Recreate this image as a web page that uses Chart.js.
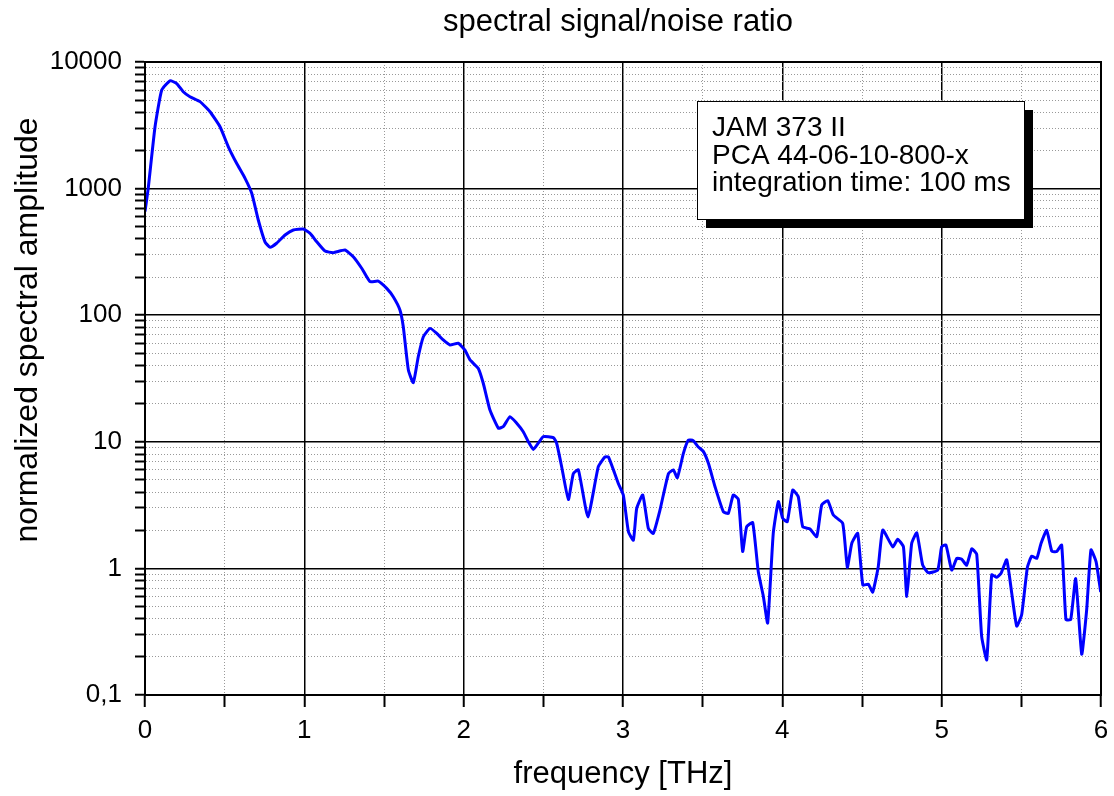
<!DOCTYPE html>
<html>
<head>
<meta charset="utf-8">
<title>spectral signal/noise ratio</title>
<script src="https://cdn.jsdelivr.net/npm/chart.js@4/dist/chart.umd.min.js"></script>
<style>
  html, body { margin: 0; padding: 0; background: #fff; }
  canvas { display: block; }
</style>
</head>
<body>
<canvas id="snrChart" width="1114" height="796"></canvas>
<script>
// frequency in THz
const freq = [
  0.0, 0.02, 0.063, 0.105, 0.157, 0.199, 0.24, 0.282, 0.345, 0.408,
  0.471, 0.523, 0.575, 0.628, 0.67, 0.711, 0.753, 0.785, 0.826, 0.879,
  0.931, 0.994, 1.036, 1.078, 1.13, 1.182, 1.255, 1.307, 1.36, 1.412,
  1.464, 1.517, 1.558, 1.6, 1.621, 1.653, 1.684, 1.715, 1.747, 1.789,
  1.831, 1.872, 1.914, 1.966, 2.008, 2.04, 2.092, 2.123, 2.165, 2.218,
  2.249, 2.291, 2.333, 2.374, 2.406, 2.437, 2.469, 2.5, 2.563, 2.584,
  2.615, 2.657, 2.688, 2.72, 2.78, 2.845, 2.887, 2.908, 2.94, 2.97,
  3.002, 3.034, 3.065, 3.086, 3.124, 3.159, 3.19, 3.232, 3.285, 3.316,
  3.341, 3.379, 3.41, 3.441, 3.473, 3.504, 3.536, 3.578, 3.63, 3.661,
  3.692, 3.724, 3.751, 3.776, 3.814, 3.849, 3.881, 3.908, 3.943, 3.975,
  4.002, 4.031, 4.065, 4.1, 4.128, 4.174, 4.216, 4.247, 4.285, 4.32,
  4.379, 4.408, 4.436, 4.473, 4.505, 4.54, 4.567, 4.602, 4.63, 4.693,
  4.724, 4.76, 4.781, 4.812, 4.844, 4.881, 4.916, 4.975, 5.0, 5.027,
  5.063, 5.095, 5.126, 5.157, 5.189, 5.22, 5.251, 5.283, 5.314, 5.345,
  5.372, 5.408, 5.44, 5.471, 5.502, 5.538, 5.565, 5.597, 5.624, 5.659,
  5.691, 5.722, 5.753, 5.78, 5.81, 5.841, 5.879, 5.91, 5.937, 5.969,
  5.998
];

// normalized spectral amplitude
const amplitude = [
  658, 1000, 3080, 6010, 7110, 6760, 5820, 5320, 4860, 4050,
  3080, 2140, 1585, 1206, 918, 565, 380, 344, 370, 430,
  471, 479, 443, 380, 321, 312, 327, 290, 235, 184,
  186, 163, 140, 110, 81, 36.9, 29.3, 47, 67.6, 78.7,
  71.9, 63.7, 58.2, 60, 53, 44.3, 38, 29, 17.8, 12.8,
  13.2, 15.8, 14, 12, 10, 8.7, 9.8, 11, 10.8, 9.7,
  6.36, 3.5, 5.6, 6.0, 2.55, 6.36, 7.6, 7.6, 6.0, 4.7,
  3.8, 1.95, 1.67, 2.98, 3.8, 2.07, 1.89, 2.89, 5.6, 6.0,
  5.2, 8.1, 10.3, 10.2, 9.1, 8.4, 6.76, 4.4, 2.8, 2.72,
  3.8, 3.5, 1.36, 2.13, 2.3, 0.94, 0.6, 0.37, 1.89, 3.37,
  2.49, 2.34, 4.16, 3.68, 2.13, 2.05, 1.78, 3.17, 3.43, 2.64,
  2.27, 1.02, 1.58, 1.89, 0.74, 0.75, 0.65, 1.03, 2.01, 1.48,
  1.7, 1.48, 0.6, 1.58, 1.91, 1.06, 0.925, 0.97, 1.48, 1.53,
  0.97, 1.2, 1.18, 1.06, 1.43, 1.29, 0.29, 0.19, 0.89, 0.85,
  0.91, 1.17, 0.635, 0.35, 0.43, 1.02, 1.25, 1.2, 1.58, 2.0,
  1.37, 1.36, 1.53, 0.395, 0.395, 0.83, 0.21, 0.47, 1.4, 1.13,
  0.65
];

const xTicks = [0, 0.5, 1, 1.5, 2, 2.5, 3, 3.5, 4, 4.5, 5, 5.5, 6];
const yMajorTicks = [0.1, 1, 10, 100, 1000, 10000];
const yMajorLabels = ['0,1', '1', '10', '100', '1000', '10000'];
const yMinorSteps = [2, 3, 4, 5, 6, 7, 8, 9];

const legendLines = ['JAM 373 II', 'PCA 44-06-10-800-x', 'integration time: 100 ms'];

const FONT = '"Liberation Sans", Arial, sans-serif';

const points = freq.map((f, i) => ({ x: f, y: amplitude[i] }));

function yMajorIndex(v) {
  return yMajorTicks.findIndex(m => Math.abs(Math.log10(v) - Math.log10(m)) < 1e-6);
}
function isXMajor(v) {
  return Math.abs(v - Math.round(v)) < 1e-6;
}

const yTickValues = [];
yMajorTicks.forEach((m, i) => {
  yTickValues.push(m);
  if (i < yMajorTicks.length - 1) yMinorSteps.forEach(s => yTickValues.push(+(m * s).toPrecision(6)));
});

const decorations = {
  id: 'decorations',
  afterDraw(chart) {
    const c = chart.ctx;
    const a = chart.chartArea;
    c.save();
    // frame
    c.strokeStyle = '#000';
    c.lineWidth = 2;
    c.strokeRect(a.left, a.top, a.right - a.left, a.bottom - a.top);

    // chart title
    c.fillStyle = '#000';
    c.font = '31px ' + FONT;
    c.textAlign = 'center';
    c.textBaseline = 'alphabetic';
    c.fillText('spectral signal/noise ratio', 618, 31);

    // y title
    c.save();
    c.translate(28, 330);
    c.rotate(-Math.PI / 2);
    c.font = '32px ' + FONT;
    c.textBaseline = 'middle';
    c.fillText('normalized spectral amplitude', 0, 0);
    c.restore();

    // text box with shadow
    const bx = 697, by = 101, bw = 327, bh = 118;
    c.fillStyle = '#000';
    c.fillRect(bx + 9, by + 9, bw, bh);
    c.fillStyle = '#fff';
    c.fillRect(bx, by, bw, bh);
    c.lineWidth = 1;
    c.strokeStyle = '#000';
    c.strokeRect(bx + 0.5, by + 0.5, bw, bh);
    c.fillStyle = '#000';
    c.font = '28px ' + FONT;
    c.textAlign = 'left';
    legendLines.forEach((t, i) => c.fillText(t, bx + 15, by + 35 + i * 27.5));
    c.restore();
  }
};

new Chart(document.getElementById('snrChart'), {
  type: 'line',
  data: {
    datasets: [{
      label: 'S/N',
      data: points,
      borderColor: 'rgb(0, 0, 255)',
      borderWidth: 3,
      pointRadius: 0,
      tension: 0.15,
      fill: false
    }]
  },
  options: {
    responsive: false,
    animation: false,
    layout: { padding: { top: 62, right: 13, left: 0, bottom: 0 } },
    plugins: {
      legend: { display: false },
      title: { display: false },
      tooltip: { enabled: false }
    },
    scales: {
      x: {
        type: 'linear',
        min: 0,
        max: 6,
        afterFit(scale) {
          scale.height = 101;
          scale.paddingLeft = 0;
          scale.paddingRight = 0;
        },
        afterBuildTicks(scale) { scale.ticks = xTicks.map(v => ({ value: v })); },
        ticks: {
          autoSkip: false,
          maxRotation: 0,
          padding: 8,
          color: '#000',
          font: { family: FONT, size: 26 },
          callback: v => isXMajor(v) ? String(Math.round(v)) : ''
        },
        grid: {
          color: ctx => isXMajor(ctx.tick.value) ? '#000' : '#999',
          lineWidth: ctx => isXMajor(ctx.tick.value) ? 1.5 : 1,
          tickColor: '#000',
          tickWidth: 2,
          tickLength: 12
        },
        border: {
          display: true,
          color: '#000',
          width: 2,
          dash: ctx => (ctx.tick && !isXMajor(ctx.tick.value)) ? [1, 2] : []
        },
        title: {
          display: true,
          text: 'frequency [THz]',
          color: '#000',
          font: { family: FONT, size: 31 },
          padding: { top: 0, bottom: 3 }
        }
      },
      y: {
        type: 'logarithmic',
        min: 0.1,
        max: 10000,
        afterFit(scale) {
          scale.width = 145;
          scale.paddingTop = 0;
          scale.paddingBottom = 0;
        },
        afterBuildTicks(scale) { scale.ticks = yTickValues.map(v => ({ value: v })); },
        ticks: {
          autoSkip: false,
          padding: 13,
          color: '#000',
          font: { family: FONT, size: 26 },
          callback: v => {
            const i = yMajorIndex(v);
            return i >= 0 ? yMajorLabels[i] : '';
          }
        },
        grid: {
          color: ctx => yMajorIndex(ctx.tick.value) >= 0 ? '#000' : '#999',
          lineWidth: ctx => yMajorIndex(ctx.tick.value) >= 0 ? 1.5 : 1,
          tickColor: '#000',
          tickWidth: 2,
          tickLength: 10
        },
        border: {
          display: true,
          color: '#000',
          width: 2,
          dash: ctx => (ctx.tick && yMajorIndex(ctx.tick.value) < 0) ? [1, 2] : []
        },
        title: { display: false }
      }
    }
  },
  plugins: [decorations]
});
</script>
</body>
</html>
